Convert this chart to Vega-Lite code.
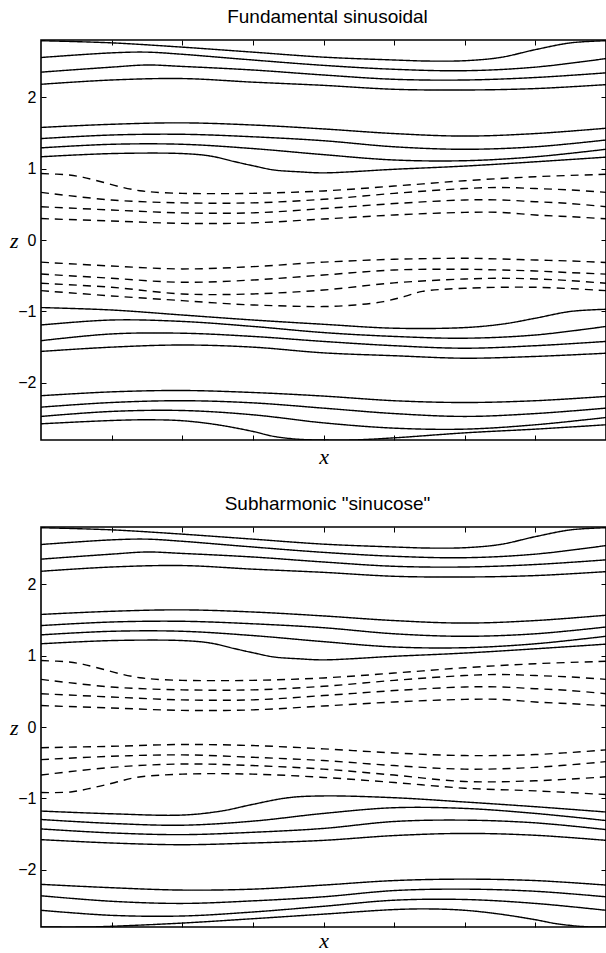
{
  "$schema": "https://vega.github.io/schema/vega-lite/v6.json",
  "autosize": {"type": "pad"},
  "padding": {"left": 8, "top": 6, "right": 0, "bottom": 0},
  "background": "white",
  "spacing": 25,
  "datasets": {
    "streamlines": [
      {"panel":"both","line":"u1","style":"solid","x":0,"z":2.79},
      {"panel":"both","line":"u1","style":"solid","x":1,"z":2.76},
      {"panel":"both","line":"u1","style":"solid","x":2,"z":2.70},
      {"panel":"both","line":"u1","style":"solid","x":3,"z":2.63},
      {"panel":"both","line":"u1","style":"solid","x":4,"z":2.56},
      {"panel":"both","line":"u1","style":"solid","x":5,"z":2.52},
      {"panel":"both","line":"u1","style":"solid","x":5.5,"z":2.505},
      {"panel":"both","line":"u1","style":"solid","x":6,"z":2.51},
      {"panel":"both","line":"u1","style":"solid","x":6.5,"z":2.555},
      {"panel":"both","line":"u1","style":"solid","x":7,"z":2.665},
      {"panel":"both","line":"u1","style":"solid","x":7.5,"z":2.76},
      {"panel":"both","line":"u1","style":"solid","x":8,"z":2.79},
      {"panel":"both","line":"u2","style":"solid","x":0,"z":2.555},
      {"panel":"both","line":"u2","style":"solid","x":1,"z":2.62},
      {"panel":"both","line":"u2","style":"solid","x":1.5,"z":2.63},
      {"panel":"both","line":"u2","style":"solid","x":2,"z":2.60},
      {"panel":"both","line":"u2","style":"solid","x":3,"z":2.52},
      {"panel":"both","line":"u2","style":"solid","x":4,"z":2.445},
      {"panel":"both","line":"u2","style":"solid","x":5,"z":2.39},
      {"panel":"both","line":"u2","style":"solid","x":6,"z":2.37},
      {"panel":"both","line":"u2","style":"solid","x":7,"z":2.42},
      {"panel":"both","line":"u2","style":"solid","x":8,"z":2.54},
      {"panel":"both","line":"u3","style":"solid","x":0,"z":2.35},
      {"panel":"both","line":"u3","style":"solid","x":1,"z":2.42},
      {"panel":"both","line":"u3","style":"solid","x":1.5,"z":2.45},
      {"panel":"both","line":"u3","style":"solid","x":2,"z":2.43},
      {"panel":"both","line":"u3","style":"solid","x":3,"z":2.38},
      {"panel":"both","line":"u3","style":"solid","x":4,"z":2.31},
      {"panel":"both","line":"u3","style":"solid","x":5,"z":2.25},
      {"panel":"both","line":"u3","style":"solid","x":6,"z":2.24},
      {"panel":"both","line":"u3","style":"solid","x":7,"z":2.275},
      {"panel":"both","line":"u3","style":"solid","x":8,"z":2.34},
      {"panel":"both","line":"u4","style":"solid","x":0,"z":2.18},
      {"panel":"both","line":"u4","style":"solid","x":1,"z":2.24},
      {"panel":"both","line":"u4","style":"solid","x":2,"z":2.26},
      {"panel":"both","line":"u4","style":"solid","x":3,"z":2.21},
      {"panel":"both","line":"u4","style":"solid","x":4,"z":2.165},
      {"panel":"both","line":"u4","style":"solid","x":5,"z":2.11},
      {"panel":"both","line":"u4","style":"solid","x":6,"z":2.10},
      {"panel":"both","line":"u4","style":"solid","x":7,"z":2.12},
      {"panel":"both","line":"u4","style":"solid","x":8,"z":2.175},
      {"panel":"both","line":"u5","style":"solid","x":0,"z":1.576},
      {"panel":"both","line":"u5","style":"solid","x":1,"z":1.62},
      {"panel":"both","line":"u5","style":"solid","x":2,"z":1.64},
      {"panel":"both","line":"u5","style":"solid","x":3,"z":1.61},
      {"panel":"both","line":"u5","style":"solid","x":4,"z":1.555},
      {"panel":"both","line":"u5","style":"solid","x":5,"z":1.49},
      {"panel":"both","line":"u5","style":"solid","x":6,"z":1.455},
      {"panel":"both","line":"u5","style":"solid","x":7,"z":1.49},
      {"panel":"both","line":"u5","style":"solid","x":8,"z":1.565},
      {"panel":"both","line":"u6","style":"solid","x":0,"z":1.42},
      {"panel":"both","line":"u6","style":"solid","x":1,"z":1.47},
      {"panel":"both","line":"u6","style":"solid","x":2,"z":1.48},
      {"panel":"both","line":"u6","style":"solid","x":3,"z":1.445},
      {"panel":"both","line":"u6","style":"solid","x":4,"z":1.39},
      {"panel":"both","line":"u6","style":"solid","x":5,"z":1.305},
      {"panel":"both","line":"u6","style":"solid","x":6,"z":1.27},
      {"panel":"both","line":"u6","style":"solid","x":7,"z":1.305},
      {"panel":"both","line":"u6","style":"solid","x":8,"z":1.40},
      {"panel":"both","line":"u7","style":"solid","x":0,"z":1.29},
      {"panel":"both","line":"u7","style":"solid","x":1,"z":1.34},
      {"panel":"both","line":"u7","style":"solid","x":2,"z":1.34},
      {"panel":"both","line":"u7","style":"solid","x":3,"z":1.28},
      {"panel":"both","line":"u7","style":"solid","x":4,"z":1.195},
      {"panel":"both","line":"u7","style":"solid","x":5,"z":1.12},
      {"panel":"both","line":"u7","style":"solid","x":6,"z":1.11},
      {"panel":"both","line":"u7","style":"solid","x":7,"z":1.165},
      {"panel":"both","line":"u7","style":"solid","x":8,"z":1.27},
      {"panel":"both","line":"u8","style":"solid","x":0,"z":1.165},
      {"panel":"both","line":"u8","style":"solid","x":1,"z":1.21},
      {"panel":"both","line":"u8","style":"solid","x":2,"z":1.21},
      {"panel":"both","line":"u8","style":"solid","x":2.4,"z":1.175},
      {"panel":"both","line":"u8","style":"solid","x":2.75,"z":1.095},
      {"panel":"both","line":"u8","style":"solid","x":3,"z":1.04},
      {"panel":"both","line":"u8","style":"solid","x":3.3,"z":0.98},
      {"panel":"both","line":"u8","style":"solid","x":3.65,"z":0.955},
      {"panel":"both","line":"u8","style":"solid","x":4,"z":0.94},
      {"panel":"both","line":"u8","style":"solid","x":5,"z":0.99},
      {"panel":"both","line":"u8","style":"solid","x":6,"z":1.035},
      {"panel":"both","line":"u8","style":"solid","x":7,"z":1.095},
      {"panel":"both","line":"u8","style":"solid","x":8,"z":1.16},
      {"panel":"both","line":"u9","style":"dashed","x":0,"z":0.93},
      {"panel":"both","line":"u9","style":"dashed","x":0.4,"z":0.91},
      {"panel":"both","line":"u9","style":"dashed","x":0.6,"z":0.877},
      {"panel":"both","line":"u9","style":"dashed","x":0.85,"z":0.816},
      {"panel":"both","line":"u9","style":"dashed","x":1.15,"z":0.737},
      {"panel":"both","line":"u9","style":"dashed","x":1.4,"z":0.69},
      {"panel":"both","line":"u9","style":"dashed","x":1.6,"z":0.67},
      {"panel":"both","line":"u9","style":"dashed","x":2,"z":0.653},
      {"panel":"both","line":"u9","style":"dashed","x":3,"z":0.653},
      {"panel":"both","line":"u9","style":"dashed","x":4,"z":0.687},
      {"panel":"both","line":"u9","style":"dashed","x":5,"z":0.755},
      {"panel":"both","line":"u9","style":"dashed","x":6,"z":0.83},
      {"panel":"both","line":"u9","style":"dashed","x":7,"z":0.886},
      {"panel":"both","line":"u9","style":"dashed","x":8,"z":0.92},
      {"panel":"both","line":"u10","style":"dashed","x":0,"z":0.667},
      {"panel":"both","line":"u10","style":"dashed","x":1,"z":0.56},
      {"panel":"both","line":"u10","style":"dashed","x":2,"z":0.52},
      {"panel":"both","line":"u10","style":"dashed","x":3,"z":0.52},
      {"panel":"both","line":"u10","style":"dashed","x":4,"z":0.57},
      {"panel":"both","line":"u10","style":"dashed","x":5,"z":0.653},
      {"panel":"both","line":"u10","style":"dashed","x":6,"z":0.72},
      {"panel":"both","line":"u10","style":"dashed","x":6.5,"z":0.735},
      {"panel":"both","line":"u10","style":"dashed","x":7,"z":0.72},
      {"panel":"both","line":"u10","style":"dashed","x":7.5,"z":0.70},
      {"panel":"both","line":"u10","style":"dashed","x":8,"z":0.667},
      {"panel":"both","line":"u11","style":"dashed","x":0,"z":0.466},
      {"panel":"both","line":"u11","style":"dashed","x":1,"z":0.42},
      {"panel":"both","line":"u11","style":"dashed","x":2,"z":0.38},
      {"panel":"both","line":"u11","style":"dashed","x":3,"z":0.38},
      {"panel":"both","line":"u11","style":"dashed","x":4,"z":0.44},
      {"panel":"both","line":"u11","style":"dashed","x":5,"z":0.51},
      {"panel":"both","line":"u11","style":"dashed","x":6,"z":0.56},
      {"panel":"both","line":"u11","style":"dashed","x":6.5,"z":0.56},
      {"panel":"both","line":"u11","style":"dashed","x":7,"z":0.536},
      {"panel":"both","line":"u11","style":"dashed","x":7.5,"z":0.51},
      {"panel":"both","line":"u11","style":"dashed","x":8,"z":0.466},
      {"panel":"both","line":"u12","style":"dashed","x":0,"z":0.30},
      {"panel":"both","line":"u12","style":"dashed","x":1,"z":0.266},
      {"panel":"both","line":"u12","style":"dashed","x":2,"z":0.233},
      {"panel":"both","line":"u12","style":"dashed","x":3,"z":0.24},
      {"panel":"both","line":"u12","style":"dashed","x":4,"z":0.294},
      {"panel":"both","line":"u12","style":"dashed","x":5,"z":0.35},
      {"panel":"both","line":"u12","style":"dashed","x":6,"z":0.387},
      {"panel":"both","line":"u12","style":"dashed","x":6.5,"z":0.387},
      {"panel":"both","line":"u12","style":"dashed","x":7,"z":0.35},
      {"panel":"both","line":"u12","style":"dashed","x":7.5,"z":0.326},
      {"panel":"both","line":"u12","style":"dashed","x":8,"z":0.297},

      {"panel":"top","line":"t1","style":"dashed","x":0,"z":-0.31},
      {"panel":"top","line":"t1","style":"dashed","x":1,"z":-0.364},
      {"panel":"top","line":"t1","style":"dashed","x":2,"z":-0.405},
      {"panel":"top","line":"t1","style":"dashed","x":3,"z":-0.373},
      {"panel":"top","line":"t1","style":"dashed","x":4,"z":-0.31},
      {"panel":"top","line":"t1","style":"dashed","x":5,"z":-0.27},
      {"panel":"top","line":"t1","style":"dashed","x":6,"z":-0.256},
      {"panel":"top","line":"t1","style":"dashed","x":6.5,"z":-0.266},
      {"panel":"top","line":"t1","style":"dashed","x":7,"z":-0.28},
      {"panel":"top","line":"t1","style":"dashed","x":7.5,"z":-0.294},
      {"panel":"top","line":"t1","style":"dashed","x":8,"z":-0.315},
      {"panel":"top","line":"t2","style":"dashed","x":0,"z":-0.476},
      {"panel":"top","line":"t2","style":"dashed","x":1,"z":-0.536},
      {"panel":"top","line":"t2","style":"dashed","x":2,"z":-0.592},
      {"panel":"top","line":"t2","style":"dashed","x":3,"z":-0.56},
      {"panel":"top","line":"t2","style":"dashed","x":4,"z":-0.49},
      {"panel":"top","line":"t2","style":"dashed","x":5,"z":-0.42},
      {"panel":"top","line":"t2","style":"dashed","x":6,"z":-0.41},
      {"panel":"top","line":"t2","style":"dashed","x":6.5,"z":-0.42},
      {"panel":"top","line":"t2","style":"dashed","x":7,"z":-0.434},
      {"panel":"top","line":"t2","style":"dashed","x":7.5,"z":-0.457},
      {"panel":"top","line":"t2","style":"dashed","x":8,"z":-0.478},
      {"panel":"top","line":"t3","style":"dashed","x":0,"z":-0.606},
      {"panel":"top","line":"t3","style":"dashed","x":1,"z":-0.662},
      {"panel":"top","line":"t3","style":"dashed","x":2,"z":-0.755},
      {"panel":"top","line":"t3","style":"dashed","x":3,"z":-0.755},
      {"panel":"top","line":"t3","style":"dashed","x":4,"z":-0.70},
      {"panel":"top","line":"t3","style":"dashed","x":5,"z":-0.60},
      {"panel":"top","line":"t3","style":"dashed","x":6,"z":-0.546},
      {"panel":"top","line":"t3","style":"dashed","x":6.5,"z":-0.536},
      {"panel":"top","line":"t3","style":"dashed","x":7,"z":-0.545},
      {"panel":"top","line":"t3","style":"dashed","x":7.5,"z":-0.569},
      {"panel":"top","line":"t3","style":"dashed","x":8,"z":-0.606},
      {"panel":"top","line":"t4","style":"dashed","x":0,"z":-0.709},
      {"panel":"top","line":"t4","style":"dashed","x":1,"z":-0.783},
      {"panel":"top","line":"t4","style":"dashed","x":2,"z":-0.849},
      {"panel":"top","line":"t4","style":"dashed","x":2.55,"z":-0.886},
      {"panel":"top","line":"t4","style":"dashed","x":3,"z":-0.909},
      {"panel":"top","line":"t4","style":"dashed","x":4,"z":-0.932},
      {"panel":"top","line":"t4","style":"dashed","x":4.45,"z":-0.909},
      {"panel":"top","line":"t4","style":"dashed","x":4.85,"z":-0.862},
      {"panel":"top","line":"t4","style":"dashed","x":5.15,"z":-0.79},
      {"panel":"top","line":"t4","style":"dashed","x":5.4,"z":-0.72},
      {"panel":"top","line":"t4","style":"dashed","x":6,"z":-0.676},
      {"panel":"top","line":"t4","style":"dashed","x":7,"z":-0.662},
      {"panel":"top","line":"t4","style":"dashed","x":8,"z":-0.709},
      {"panel":"top","line":"t5","style":"solid","x":0,"z":-0.946},
      {"panel":"top","line":"t5","style":"solid","x":1,"z":-0.98},
      {"panel":"top","line":"t5","style":"solid","x":2,"z":-1.05},
      {"panel":"top","line":"t5","style":"solid","x":3,"z":-1.12},
      {"panel":"top","line":"t5","style":"solid","x":4,"z":-1.18},
      {"panel":"top","line":"t5","style":"solid","x":5,"z":-1.235},
      {"panel":"top","line":"t5","style":"solid","x":6,"z":-1.226},
      {"panel":"top","line":"t5","style":"solid","x":6.55,"z":-1.175},
      {"panel":"top","line":"t5","style":"solid","x":7,"z":-1.095},
      {"panel":"top","line":"t5","style":"solid","x":7.5,"z":-1.0},
      {"panel":"top","line":"t5","style":"solid","x":8,"z":-0.97},
      {"panel":"top","line":"t6","style":"solid","x":0,"z":-1.19},
      {"panel":"top","line":"t6","style":"solid","x":1,"z":-1.12},
      {"panel":"top","line":"t6","style":"solid","x":2,"z":-1.14},
      {"panel":"top","line":"t6","style":"solid","x":3,"z":-1.21},
      {"panel":"top","line":"t6","style":"solid","x":4,"z":-1.296},
      {"panel":"top","line":"t6","style":"solid","x":5,"z":-1.35},
      {"panel":"top","line":"t6","style":"solid","x":6,"z":-1.375},
      {"panel":"top","line":"t6","style":"solid","x":7,"z":-1.33},
      {"panel":"top","line":"t6","style":"solid","x":8,"z":-1.21},
      {"panel":"top","line":"t7","style":"solid","x":0,"z":-1.41},
      {"panel":"top","line":"t7","style":"solid","x":1,"z":-1.315},
      {"panel":"top","line":"t7","style":"solid","x":2,"z":-1.305},
      {"panel":"top","line":"t7","style":"solid","x":3,"z":-1.35},
      {"panel":"top","line":"t7","style":"solid","x":4,"z":-1.42},
      {"panel":"top","line":"t7","style":"solid","x":5,"z":-1.48},
      {"panel":"top","line":"t7","style":"solid","x":6,"z":-1.515},
      {"panel":"top","line":"t7","style":"solid","x":7,"z":-1.48},
      {"panel":"top","line":"t7","style":"solid","x":8,"z":-1.42},
      {"panel":"top","line":"t8","style":"solid","x":0,"z":-1.56},
      {"panel":"top","line":"t8","style":"solid","x":1,"z":-1.50},
      {"panel":"top","line":"t8","style":"solid","x":2,"z":-1.47},
      {"panel":"top","line":"t8","style":"solid","x":3,"z":-1.50},
      {"panel":"top","line":"t8","style":"solid","x":4,"z":-1.58},
      {"panel":"top","line":"t8","style":"solid","x":5,"z":-1.62},
      {"panel":"top","line":"t8","style":"solid","x":6,"z":-1.655},
      {"panel":"top","line":"t8","style":"solid","x":7,"z":-1.63},
      {"panel":"top","line":"t8","style":"solid","x":8,"z":-1.585},
      {"panel":"top","line":"t9","style":"solid","x":0,"z":-2.18},
      {"panel":"top","line":"t9","style":"solid","x":1,"z":-2.126},
      {"panel":"top","line":"t9","style":"solid","x":2,"z":-2.107},
      {"panel":"top","line":"t9","style":"solid","x":3,"z":-2.135},
      {"panel":"top","line":"t9","style":"solid","x":4,"z":-2.185},
      {"panel":"top","line":"t9","style":"solid","x":5,"z":-2.25},
      {"panel":"top","line":"t9","style":"solid","x":6,"z":-2.275},
      {"panel":"top","line":"t9","style":"solid","x":7,"z":-2.25},
      {"panel":"top","line":"t9","style":"solid","x":8,"z":-2.19},
      {"panel":"top","line":"t10","style":"solid","x":0,"z":-2.34},
      {"panel":"top","line":"t10","style":"solid","x":1,"z":-2.275},
      {"panel":"top","line":"t10","style":"solid","x":2,"z":-2.25},
      {"panel":"top","line":"t10","style":"solid","x":3,"z":-2.28},
      {"panel":"top","line":"t10","style":"solid","x":4,"z":-2.354},
      {"panel":"top","line":"t10","style":"solid","x":5,"z":-2.43},
      {"panel":"top","line":"t10","style":"solid","x":6,"z":-2.47},
      {"panel":"top","line":"t10","style":"solid","x":7,"z":-2.43},
      {"panel":"top","line":"t10","style":"solid","x":8,"z":-2.354},
      {"panel":"top","line":"t11","style":"solid","x":0,"z":-2.47},
      {"panel":"top","line":"t11","style":"solid","x":1,"z":-2.40},
      {"panel":"top","line":"t11","style":"solid","x":2,"z":-2.387},
      {"panel":"top","line":"t11","style":"solid","x":3,"z":-2.447},
      {"panel":"top","line":"t11","style":"solid","x":4,"z":-2.56},
      {"panel":"top","line":"t11","style":"solid","x":5,"z":-2.634},
      {"panel":"top","line":"t11","style":"solid","x":6,"z":-2.648},
      {"panel":"top","line":"t11","style":"solid","x":7,"z":-2.587},
      {"panel":"top","line":"t11","style":"solid","x":8,"z":-2.485},
      {"panel":"top","line":"t12","style":"solid","x":0,"z":-2.573},
      {"panel":"top","line":"t12","style":"solid","x":1,"z":-2.527},
      {"panel":"top","line":"t12","style":"solid","x":1.5,"z":-2.517},
      {"panel":"top","line":"t12","style":"solid","x":2,"z":-2.53},
      {"panel":"top","line":"t12","style":"solid","x":2.5,"z":-2.587},
      {"panel":"top","line":"t12","style":"solid","x":3,"z":-2.68},
      {"panel":"top","line":"t12","style":"solid","x":3.3,"z":-2.75},
      {"panel":"top","line":"t12","style":"solid","x":3.65,"z":-2.79},
      {"panel":"top","line":"t12","style":"solid","x":4,"z":-2.80},
      {"panel":"top","line":"t12","style":"solid","x":4.4,"z":-2.80},
      {"panel":"top","line":"t12","style":"solid","x":5,"z":-2.77},
      {"panel":"top","line":"t12","style":"solid","x":6,"z":-2.70},
      {"panel":"top","line":"t12","style":"solid","x":7,"z":-2.648},
      {"panel":"top","line":"t12","style":"solid","x":8,"z":-2.587},

      {"panel":"bottom","line":"s1","style":"dashed","x":0,"z":-0.29},
      {"panel":"bottom","line":"s1","style":"dashed","x":1,"z":-0.27},
      {"panel":"bottom","line":"s1","style":"dashed","x":2,"z":-0.245},
      {"panel":"bottom","line":"s1","style":"dashed","x":3,"z":-0.26},
      {"panel":"bottom","line":"s1","style":"dashed","x":4,"z":-0.306},
      {"panel":"bottom","line":"s1","style":"dashed","x":5,"z":-0.363},
      {"panel":"bottom","line":"s1","style":"dashed","x":6,"z":-0.40},
      {"panel":"bottom","line":"s1","style":"dashed","x":7,"z":-0.386},
      {"panel":"bottom","line":"s1","style":"dashed","x":8,"z":-0.32},
      {"panel":"bottom","line":"s2","style":"dashed","x":0,"z":-0.457},
      {"panel":"bottom","line":"s2","style":"dashed","x":1,"z":-0.41},
      {"panel":"bottom","line":"s2","style":"dashed","x":2,"z":-0.39},
      {"panel":"bottom","line":"s2","style":"dashed","x":3,"z":-0.424},
      {"panel":"bottom","line":"s2","style":"dashed","x":4,"z":-0.47},
      {"panel":"bottom","line":"s2","style":"dashed","x":5,"z":-0.54},
      {"panel":"bottom","line":"s2","style":"dashed","x":6,"z":-0.59},
      {"panel":"bottom","line":"s2","style":"dashed","x":7,"z":-0.565},
      {"panel":"bottom","line":"s2","style":"dashed","x":8,"z":-0.485},
      {"panel":"bottom","line":"s3","style":"dashed","x":0,"z":-0.673},
      {"panel":"bottom","line":"s3","style":"dashed","x":1,"z":-0.565},
      {"panel":"bottom","line":"s3","style":"dashed","x":2,"z":-0.518},
      {"panel":"bottom","line":"s3","style":"dashed","x":3,"z":-0.54},
      {"panel":"bottom","line":"s3","style":"dashed","x":4,"z":-0.59},
      {"panel":"bottom","line":"s3","style":"dashed","x":5,"z":-0.673},
      {"panel":"bottom","line":"s3","style":"dashed","x":6,"z":-0.763},
      {"panel":"bottom","line":"s3","style":"dashed","x":7,"z":-0.753},
      {"panel":"bottom","line":"s3","style":"dashed","x":8,"z":-0.697},
      {"panel":"bottom","line":"s4","style":"dashed","x":0,"z":-0.918},
      {"panel":"bottom","line":"s4","style":"dashed","x":0.42,"z":-0.909},
      {"panel":"bottom","line":"s4","style":"dashed","x":0.75,"z":-0.847},
      {"panel":"bottom","line":"s4","style":"dashed","x":1.05,"z":-0.777},
      {"panel":"bottom","line":"s4","style":"dashed","x":1.35,"z":-0.706},
      {"panel":"bottom","line":"s4","style":"dashed","x":2,"z":-0.66},
      {"panel":"bottom","line":"s4","style":"dashed","x":3,"z":-0.66},
      {"panel":"bottom","line":"s4","style":"dashed","x":4,"z":-0.706},
      {"panel":"bottom","line":"s4","style":"dashed","x":5,"z":-0.777},
      {"panel":"bottom","line":"s4","style":"dashed","x":6,"z":-0.857},
      {"panel":"bottom","line":"s4","style":"dashed","x":7,"z":-0.894},
      {"panel":"bottom","line":"s4","style":"dashed","x":8,"z":-0.946},
      {"panel":"bottom","line":"s5","style":"solid","x":0,"z":-1.177},
      {"panel":"bottom","line":"s5","style":"solid","x":1,"z":-1.215},
      {"panel":"bottom","line":"s5","style":"solid","x":2,"z":-1.233},
      {"panel":"bottom","line":"s5","style":"solid","x":2.55,"z":-1.177},
      {"panel":"bottom","line":"s5","style":"solid","x":3,"z":-1.083},
      {"panel":"bottom","line":"s5","style":"solid","x":3.5,"z":-0.99},
      {"panel":"bottom","line":"s5","style":"solid","x":4,"z":-0.965},
      {"panel":"bottom","line":"s5","style":"solid","x":5,"z":-0.99},
      {"panel":"bottom","line":"s5","style":"solid","x":6,"z":-1.05},
      {"panel":"bottom","line":"s5","style":"solid","x":7,"z":-1.116},
      {"panel":"bottom","line":"s5","style":"solid","x":8,"z":-1.19},
      {"panel":"bottom","line":"s6","style":"solid","x":0,"z":-1.295},
      {"panel":"bottom","line":"s6","style":"solid","x":1,"z":-1.35},
      {"panel":"bottom","line":"s6","style":"solid","x":2,"z":-1.375},
      {"panel":"bottom","line":"s6","style":"solid","x":3,"z":-1.318},
      {"panel":"bottom","line":"s6","style":"solid","x":4,"z":-1.21},
      {"panel":"bottom","line":"s6","style":"solid","x":5,"z":-1.13},
      {"panel":"bottom","line":"s6","style":"solid","x":6,"z":-1.14},
      {"panel":"bottom","line":"s6","style":"solid","x":7,"z":-1.21},
      {"panel":"bottom","line":"s6","style":"solid","x":8,"z":-1.31},
      {"panel":"bottom","line":"s7","style":"solid","x":0,"z":-1.427},
      {"panel":"bottom","line":"s7","style":"solid","x":1,"z":-1.483},
      {"panel":"bottom","line":"s7","style":"solid","x":2,"z":-1.507},
      {"panel":"bottom","line":"s7","style":"solid","x":3,"z":-1.474},
      {"panel":"bottom","line":"s7","style":"solid","x":4,"z":-1.42},
      {"panel":"bottom","line":"s7","style":"solid","x":5,"z":-1.323},
      {"panel":"bottom","line":"s7","style":"solid","x":6,"z":-1.304},
      {"panel":"bottom","line":"s7","style":"solid","x":7,"z":-1.342},
      {"panel":"bottom","line":"s7","style":"solid","x":8,"z":-1.436},
      {"panel":"bottom","line":"s8","style":"solid","x":0,"z":-1.577},
      {"panel":"bottom","line":"s8","style":"solid","x":1,"z":-1.624},
      {"panel":"bottom","line":"s8","style":"solid","x":2,"z":-1.648},
      {"panel":"bottom","line":"s8","style":"solid","x":3,"z":-1.624},
      {"panel":"bottom","line":"s8","style":"solid","x":4,"z":-1.587},
      {"panel":"bottom","line":"s8","style":"solid","x":5,"z":-1.52},
      {"panel":"bottom","line":"s8","style":"solid","x":6,"z":-1.49},
      {"panel":"bottom","line":"s8","style":"solid","x":7,"z":-1.516},
      {"panel":"bottom","line":"s8","style":"solid","x":8,"z":-1.587},
      {"panel":"bottom","line":"s9","style":"solid","x":0,"z":-2.203},
      {"panel":"bottom","line":"s9","style":"solid","x":1,"z":-2.25},
      {"panel":"bottom","line":"s9","style":"solid","x":2,"z":-2.283},
      {"panel":"bottom","line":"s9","style":"solid","x":3,"z":-2.27},
      {"panel":"bottom","line":"s9","style":"solid","x":4,"z":-2.213},
      {"panel":"bottom","line":"s9","style":"solid","x":5,"z":-2.15},
      {"panel":"bottom","line":"s9","style":"solid","x":6,"z":-2.13},
      {"panel":"bottom","line":"s9","style":"solid","x":7,"z":-2.15},
      {"panel":"bottom","line":"s9","style":"solid","x":8,"z":-2.213},
      {"panel":"bottom","line":"s10","style":"solid","x":0,"z":-2.363},
      {"panel":"bottom","line":"s10","style":"solid","x":1,"z":-2.44},
      {"panel":"bottom","line":"s10","style":"solid","x":2,"z":-2.47},
      {"panel":"bottom","line":"s10","style":"solid","x":3,"z":-2.434},
      {"panel":"bottom","line":"s10","style":"solid","x":4,"z":-2.377},
      {"panel":"bottom","line":"s10","style":"solid","x":5,"z":-2.29},
      {"panel":"bottom","line":"s10","style":"solid","x":6,"z":-2.27},
      {"panel":"bottom","line":"s10","style":"solid","x":7,"z":-2.30},
      {"panel":"bottom","line":"s10","style":"solid","x":8,"z":-2.377},
      {"panel":"bottom","line":"s11","style":"solid","x":0,"z":-2.566},
      {"panel":"bottom","line":"s11","style":"solid","x":1,"z":-2.637},
      {"panel":"bottom","line":"s11","style":"solid","x":2,"z":-2.646},
      {"panel":"bottom","line":"s11","style":"solid","x":3,"z":-2.59},
      {"panel":"bottom","line":"s11","style":"solid","x":4,"z":-2.51},
      {"panel":"bottom","line":"s11","style":"solid","x":5,"z":-2.425},
      {"panel":"bottom","line":"s11","style":"solid","x":6,"z":-2.415},
      {"panel":"bottom","line":"s11","style":"solid","x":7,"z":-2.47},
      {"panel":"bottom","line":"s11","style":"solid","x":8,"z":-2.566},
      {"panel":"bottom","line":"s12","style":"solid","x":0,"z":-2.80},
      {"panel":"bottom","line":"s12","style":"solid","x":0.65,"z":-2.80},
      {"panel":"bottom","line":"s12","style":"solid","x":1,"z":-2.79},
      {"panel":"bottom","line":"s12","style":"solid","x":2,"z":-2.745},
      {"panel":"bottom","line":"s12","style":"solid","x":3,"z":-2.684},
      {"panel":"bottom","line":"s12","style":"solid","x":4,"z":-2.62},
      {"panel":"bottom","line":"s12","style":"solid","x":5,"z":-2.556},
      {"panel":"bottom","line":"s12","style":"solid","x":5.5,"z":-2.547},
      {"panel":"bottom","line":"s12","style":"solid","x":6,"z":-2.566},
      {"panel":"bottom","line":"s12","style":"solid","x":6.5,"z":-2.62},
      {"panel":"bottom","line":"s12","style":"solid","x":7,"z":-2.698},
      {"panel":"bottom","line":"s12","style":"solid","x":7.3,"z":-2.754},
      {"panel":"bottom","line":"s12","style":"solid","x":7.7,"z":-2.795},
      {"panel":"bottom","line":"s12","style":"solid","x":8,"z":-2.80}
    ]
  },
  "data": {"name": "streamlines"},
  "vconcat": [
    {
      "title": {"text": "Fundamental sinusoidal"},
      "width": 565,
      "height": 400,
      "transform": [{"filter": "datum.panel == 'both' || datum.panel == 'top'"}],
      "layer": [
        {
          "mark": {"type": "line", "interpolate": "catmull-rom", "color": "black", "strokeWidth": 1.4, "clip": true},
          "encoding": {
            "x": {"field": "x", "type": "quantitative", "scale": {"domain": [0, 8], "nice": false, "zero": false},
                  "axis": {"orient": "bottom", "values": [1, 2, 3, 4, 5, 6, 7], "labels": false, "title": "x",
                           "titleFont": "Liberation Serif", "titleFontStyle": "italic", "titleFontWeight": "normal",
                           "titleFontSize": 22, "titleY": 23, "titleBaseline": "alphabetic"}},
            "y": {"field": "z", "type": "quantitative", "scale": {"domain": [-2.8, 2.8], "nice": false, "zero": false},
                  "axis": {"orient": "left", "values": [-2, -1, 0, 1, 2], "labelPadding": 10, "title": "z",
                           "titleFont": "Liberation Serif", "titleFontStyle": "italic", "titleFontWeight": "normal",
                           "titleFontSize": 22, "titleAngle": 0, "titleAlign": "right", "titleBaseline": "middle",
                           "titleX": -23, "titleY": 200}},
            "detail": {"field": "line"},
            "strokeDash": {"field": "style", "type": "nominal",
                           "scale": {"domain": ["solid", "dashed"], "range": [[1, 0], [8, 6]]}, "legend": null}
          }
        },
        {
          "mark": {"type": "line", "strokeOpacity": 0},
          "encoding": {
            "x": {"field": "x", "type": "quantitative",
                  "axis": {"orient": "top", "values": [1, 2, 3, 4, 5, 6, 7], "labels": false, "title": null}},
            "y": {"field": "z", "type": "quantitative",
                  "axis": {"orient": "right", "values": [-2, -1, 0, 1, 2], "labels": false, "title": null}},
            "detail": {"field": "line"}
          }
        }
      ],
      "resolve": {"axis": {"x": "independent", "y": "independent"}}
    },
    {
      "title": {"text": "Subharmonic \"sinucose\""},
      "width": 565,
      "height": 400,
      "transform": [{"filter": "datum.panel == 'both' || datum.panel == 'bottom'"}],
      "layer": [
        {
          "mark": {"type": "line", "interpolate": "catmull-rom", "color": "black", "strokeWidth": 1.4, "clip": true},
          "encoding": {
            "x": {"field": "x", "type": "quantitative", "scale": {"domain": [0, 8], "nice": false, "zero": false},
                  "axis": {"orient": "bottom", "values": [1, 2, 3, 4, 5, 6, 7], "labels": false, "title": "x",
                           "titleFont": "Liberation Serif", "titleFontStyle": "italic", "titleFontWeight": "normal",
                           "titleFontSize": 22, "titleY": 20, "titleBaseline": "alphabetic"}},
            "y": {"field": "z", "type": "quantitative", "scale": {"domain": [-2.8, 2.8], "nice": false, "zero": false},
                  "axis": {"orient": "left", "values": [-2, -1, 0, 1, 2], "labelPadding": 10, "title": "z",
                           "titleFont": "Liberation Serif", "titleFontStyle": "italic", "titleFontWeight": "normal",
                           "titleFontSize": 22, "titleAngle": 0, "titleAlign": "right", "titleBaseline": "middle",
                           "titleX": -23, "titleY": 200}},
            "detail": {"field": "line"},
            "strokeDash": {"field": "style", "type": "nominal",
                           "scale": {"domain": ["solid", "dashed"], "range": [[1, 0], [8, 6]]}, "legend": null}
          }
        },
        {
          "mark": {"type": "line", "strokeOpacity": 0},
          "encoding": {
            "x": {"field": "x", "type": "quantitative",
                  "axis": {"orient": "top", "values": [1, 2, 3, 4, 5, 6, 7], "labels": false, "title": null}},
            "y": {"field": "z", "type": "quantitative",
                  "axis": {"orient": "right", "values": [-2, -1, 0, 1, 2], "labels": false, "title": null}},
            "detail": {"field": "line"}
          }
        }
      ],
      "resolve": {"axis": {"x": "independent", "y": "independent"}}
    }
  ],
  "config": {
    "view": {"stroke": "black", "strokeWidth": 1.6},
    "axis": {"grid": false, "domain": false, "tickColor": "black", "tickWidth": 1, "tickSize": -5,
             "labelColor": "black", "labelFont": "Liberation Sans", "labelFontSize": 16, "titleColor": "black"},
    "title": {"font": "Liberation Sans", "fontSize": 19, "fontWeight": "normal", "color": "black",
              "anchor": "middle", "offset": 13, "baseline": "alphabetic", "dx": 4}
  }
}
